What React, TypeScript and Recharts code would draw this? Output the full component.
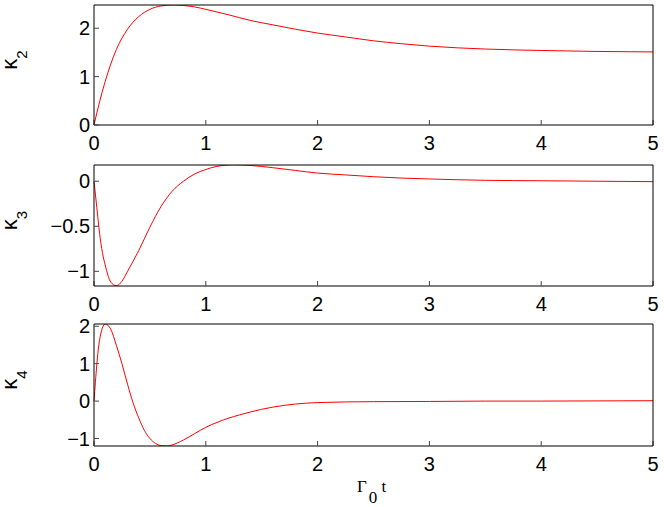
import React from 'react';
import {LineChart, Line, XAxis, YAxis} from 'recharts';

// time samples and cumulants
const t2 = [0, 0.05, 0.1, 0.15, 0.2, 0.3, 0.4, 0.5, 0.6, 0.7, 0.8, 0.9, 1.0, 1.2, 1.4, 1.6, 1.8, 2.0, 2.25, 2.5, 2.75, 3, 3.5, 4, 4.5, 5];
const kappa2 = [0, 0.48, 0.9, 1.26, 1.56, 1.98, 2.24, 2.39, 2.46, 2.48, 2.47, 2.44, 2.39, 2.28, 2.16, 2.07, 1.98, 1.9, 1.82, 1.74, 1.68, 1.63, 1.57, 1.54, 1.52, 1.51];

const t3 = [0, 0.025, 0.05, 0.075, 0.1, 0.15, 0.2, 0.25, 0.3, 0.4, 0.5, 0.6, 0.7, 0.8, 0.9, 1.0, 1.1, 1.25, 1.4, 1.6, 1.8, 2.0, 2.25, 2.5, 2.75, 3, 3.5, 4, 4.5, 5];
const kappa3 = [0, -0.29, -0.58, -0.79, -0.93, -1.12, -1.16, -1.11, -1.0, -0.77, -0.51, -0.28, -0.11, 0.0, 0.08, 0.13, 0.165, 0.182, 0.175, 0.15, 0.12, 0.09, 0.07, 0.05, 0.035, 0.025, 0.01, 0.005, 0.0, -0.005];

const t4 = [0, 0.05, 0.1, 0.15, 0.2, 0.25, 0.3, 0.35, 0.4, 0.45, 0.5, 0.55, 0.6, 0.65, 0.7, 0.8, 0.9, 1.0, 1.1, 1.2, 1.3, 1.4, 1.5, 1.6, 1.8, 2.0, 2.5, 3, 3.5, 4, 4.5, 5];
const kappa4 = [0, 1.64, 2.06, 1.92, 1.49, 1.0, 0.45, -0.05, -0.45, -0.78, -1.0, -1.13, -1.19, -1.2, -1.17, -1.04, -0.87, -0.7, -0.57, -0.46, -0.37, -0.29, -0.22, -0.16, -0.08, -0.04, -0.015, -0.01, 0, 0, 0.005, 0.01];

const xTicks = [0, 1, 2, 3, 4, 5];
const yTicks2 = [0, 1, 2];
const yTicks3 = [-1, -0.5, 0];
const yTicks4 = [-1, 0, 1, 2];

const RED = '#ff0000';
const FONT = 'Arial, "Liberation Sans", Helvetica, sans-serif';

const fmt = (v: number) => (v < 0 ? '\u2212' + Math.abs(v) : String(v));

function KappaLabel({viewBox, n}: any) {
	const cy = viewBox.y + viewBox.height / 2 - 5;
	const x = 17;
	return (
		<text x={x} y={cy} transform={`rotate(-90 ${x} ${cy})`} textAnchor="middle" fontFamily={FONT} fontSize={22} fill="#000">
			κ<tspan fontSize={15} dy={10}>{n}</tspan>
		</text>
	);
}

function TitleLabel({viewBox}: any) {
	const y = viewBox.y + 45.7;
	return (
		<text x={357} y={y} fontFamily='"Liberation Serif", "Times New Roman", serif' fontSize={17} fill="#000">
			Γ<tspan dy={11} dx={2}>0</tspan><tspan dy={-11}> t</tspan>
		</text>
	);
}

function Panel({top, height, plotH, t, v, domain, ticks, n, title}: {
	top: number;
	height: number;
	plotH: number;
	t: number[];
	v: number[];
	domain: [number, number];
	ticks: number[];
	n: string;
	title?: boolean;
}) {
	const data = t.map((x, i) => ({t: x, v: v[i]}));
	const tickStyle = {fill: '#000', fontSize: 20, fontFamily: FONT};
	return (
		<div style={{position: 'absolute', left: 0, top}}>
			<LineChart width={664} height={height} data={data} margin={{top: 4, right: 10, left: 0, bottom: 0}}>
				<XAxis
					dataKey="t"
					type="number"
					domain={[0, 5]}
					ticks={xTicks}
					interval={0}
					height={height - 5 - plotH}
					tickSize={-5}
					tickMargin={16}
					stroke="#000"
					tickLine={{stroke: '#444'}}
					tick={tickStyle}
					label={title ? <TitleLabel /> : undefined}
				/>
				<XAxis
					xAxisId="top"
					orientation="top"
					dataKey="t"
					type="number"
					domain={[0, 5]}
					ticks={xTicks}
					interval={0}
					height={1}
					tickSize={-5}
					stroke="#000"
					tickLine={{stroke: '#444'}}
					tick={false}
				/>
				<YAxis
					type="number"
					domain={domain}
					ticks={ticks}
					interval={0}
					allowDataOverflow
					width={94}
					tickSize={-5}
					tickMargin={9}
					stroke="#000"
					tickLine={{stroke: '#444'}}
					tick={tickStyle}
					tickFormatter={fmt}
					label={<KappaLabel n={n} />}
				/>
				<YAxis
					yAxisId="right"
					orientation="right"
					type="number"
					domain={domain}
					ticks={ticks}
					interval={0}
					allowDataOverflow
					width={1}
					tickSize={-5}
					stroke="#000"
					tickLine={{stroke: '#444'}}
					tick={false}
				/>
				<Line xAxisId="top" yAxisId="right" type="monotone" dataKey="v" stroke="none" dot={false} activeDot={false} isAnimationActive={false} />
				<Line type="monotone" dataKey="v" stroke={RED} strokeWidth={1} dot={false} activeDot={false} isAnimationActive={false} />
			</LineChart>
		</div>
	);
}

export default function App() {
	return (
		<div style={{position: 'absolute', left: 0, top: 0, width: 664, height: 507, background: '#fff'}}>
			<Panel top={0} height={165} plotH={120} t={t2} v={kappa2} domain={[0, 2.48]} ticks={yTicks2} n="2" />
			<Panel top={160} height={166} plotH={121} t={t3} v={kappa3} domain={[-1.163, 0.18]} ticks={yTicks3} n="3" />
			<Panel top={319} height={188} plotH={122} t={t4} v={kappa4} domain={[-1.2, 2.06]} ticks={yTicks4} n="4" title />
		</div>
	);
}
